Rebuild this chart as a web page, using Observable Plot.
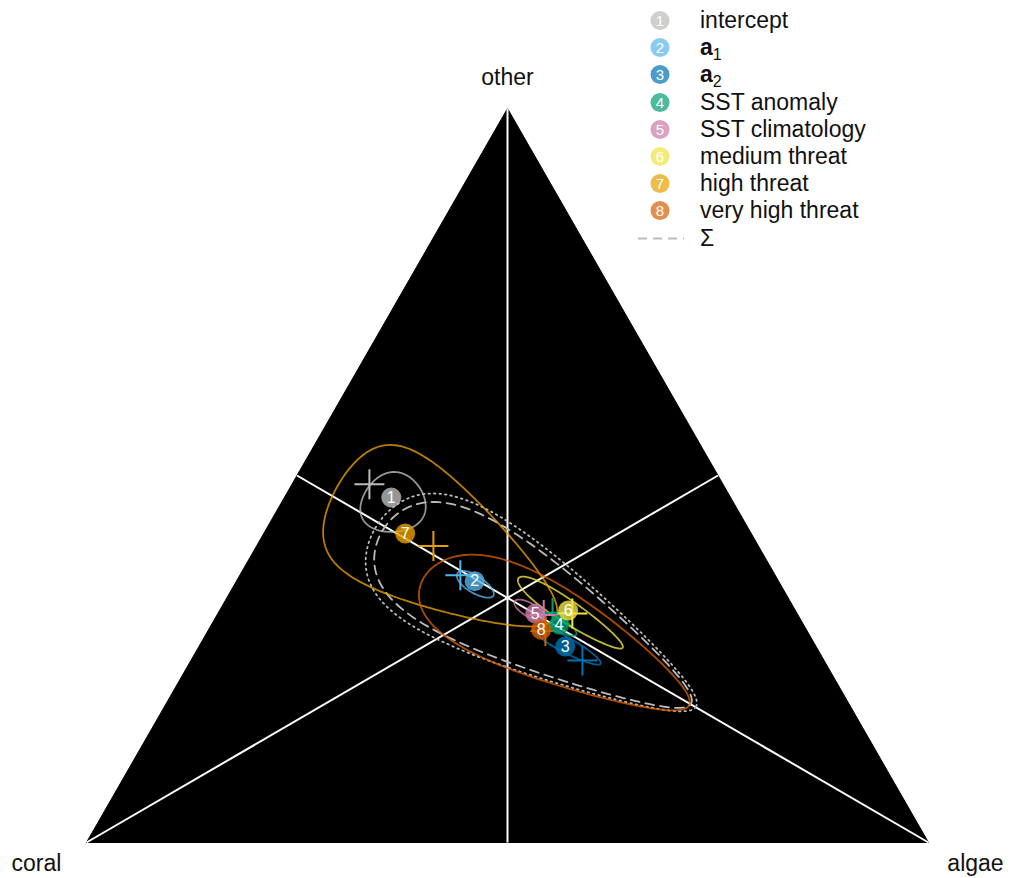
<!DOCTYPE html>
<html><head><meta charset="utf-8">
<script src="https://cdn.jsdelivr.net/npm/d3@7"></script>
<script src="https://cdn.jsdelivr.net/npm/@observablehq/plot@0.6"></script>
<style>
body{margin:0;background:#fff;font-family:"Liberation Sans",Arial,Helvetica,sans-serif;}
#wrap{position:relative;width:1011px;height:878px;}
#legend{position:absolute;left:636px;top:7px;}
.item{height:27.2px;display:flex;align-items:center;font-size:23px;color:#111;}
.item svg{width:50px;height:27px;flex:none;margin-right:14px;}
.item sub{font-size:16px;vertical-align:-5px;line-height:0;}
</style>
</head><body>
<div id="wrap"><div id="chart"></div><div id="legend"></div></div>
<script>
// ---- data ----
const series = ["intercept","a1","a2","SST anomaly","SST climatology","medium threat","high threat","very high threat"];
const legendHtml = ["intercept","<b>a</b><sub>1</sub>","<b>a</b><sub>2</sub>","SST anomaly","SST climatology","medium threat","high threat","very high threat"];
const colors = ["#BBBBBB","#56B4E9","#0072B2","#009E73","#CC79A7","#F0E442","#E69F00","#D55E00"];
// point estimates (composition: coral, algae, other)
const pointCoral = [0.403,0.361,0.298,0.290,0.311,0.270,0.411,0.315];
const pointAlgae = [0.127,0.283,0.435,0.413,0.377,0.414,0.168,0.395];
const pointOther = [0.470,0.356,0.267,0.297,0.312,0.316,0.421,0.290];
// reference crosses (composition)
const crossCoral = [0.420,0.374,0.287,0.290,0.302,0.267,0.386,0.311];
const crossAlgae = [0.092,0.262,0.465,0.397,0.388,0.421,0.210,0.401];
const crossOther = [0.488,0.364,0.248,0.313,0.310,0.312,0.404,0.288];
// ellipses in ilr coordinates: centre, semi-axes, angle (deg)
const ellZ1 = [-0.81,-0.17,0.275,0.25,0.11,0.305,-0.63,0.19];
const ellZ2 = [0.575,0.073,-0.236,-0.125,-0.06,-0.054,0.41,-0.18];
const ellA = [0.31,0.116,0.174,0.09,0.085,0.29,1.0,0.72];
const ellB = [0.12,0.04,0.045,0.035,0.035,0.065,0.28,0.27];
const ellAngle = [-26,-32,-30,-30,-30,-31,-30,-26];
// Sigma ellipses (dashed, dotted)
const sigmaZ1 = [0.02,0.0];
const sigmaZ2 = [-0.02,-0.01];
const sigmaA = [0.95,1.0];
const sigmaB = [0.30,0.33];
const sigmaAngle = [-29,-29];
const vertexNames = ["coral","algae","other"];

// ---- helpers ----
const S2 = Math.SQRT2, S6 = Math.sqrt(6);
function fromIlr(z1, z2){
  const ec = Math.exp(-z1/S2 - z2/S6), ea = Math.exp(z1/S2 - z2/S6), eo = Math.exp(2*z2/S6);
  const s = ec+ea+eo; return [ec/s, ea/s, eo/s];
}
const tx = (c,a,o) => a + o/2;
const ty = (c,a,o) => o;
function ellipse(id, z1, z2, A, B, ang){
  const th = ang*Math.PI/180, out = [];
  for (let k=0;k<=240;k++){
    const t = 2*Math.PI*k/240;
    const u = A*Math.cos(t), v = B*Math.sin(t);
    const [c,a,o] = fromIlr(z1 + u*Math.cos(th) - v*Math.sin(th), z2 + u*Math.sin(th) + v*Math.cos(th));
    out.push({id, x: tx(c,a,o), y: ty(c,a,o)});
  }
  return out;
}
const ellData = series.flatMap((s,i)=> ellipse(s, ellZ1[i], ellZ2[i], ellA[i], ellB[i], ellAngle[i]).map(d=>({...d, color: colors[i]})));
const sigDashed = ellipse("d", sigmaZ1[0], sigmaZ2[0], sigmaA[0], sigmaB[0], sigmaAngle[0]);
const sigDotted = ellipse("o", sigmaZ1[1], sigmaZ2[1], sigmaA[1], sigmaB[1], sigmaAngle[1]);
const points = series.map((s,i)=>({s, n: String(i+1), color: colors[i], x: tx(pointCoral[i],pointAlgae[i],pointOther[i]), y: ty(pointCoral[i],pointAlgae[i],pointOther[i])}));
const crosses = series.map((s,i)=>({s, color: colors[i], x: tx(crossCoral[i],crossAlgae[i],crossOther[i]), y: ty(crossCoral[i],crossAlgae[i],crossOther[i])}));
const verts = [[1,0,0],[0,1,0],[0,0,1]].map((p,i)=>({name: vertexNames[i], x: tx(...p), y: ty(...p)}));
const tri = [...verts, verts[0]];
const medians = verts.map((v,i)=>{const o = verts.filter((_,j)=>j!==i); return {x1:v.x,y1:v.y,x2:(o[0].x+o[1].x)/2,y2:(o[0].y+o[1].y)/2};});
const crossSymbol = {draw(ctx, size){const r = Math.sqrt(size/Math.PI); ctx.moveTo(-r,0); ctx.lineTo(r,0); ctx.moveTo(0,-r); ctx.lineTo(0,r);}};
const labelOpts = {x:"x", y:"y", text:"name", fontSize:23, fill:"#111"};

const chart = Plot.plot({
  width: 1011, height: 878,
  marginLeft: 86, marginRight: 83, marginTop: 108, marginBottom: 36,
  x: {domain:[0,1], axis:null},
  y: {domain:[0,1], axis:null},
  style: {fontFamily: '"Liberation Sans", Arial, Helvetica, sans-serif', background: "#fff"},
  marks: [
    Plot.line(tri, {x:"x", y:"y", fill:"black", stroke:"black", strokeWidth:1}),
    Plot.link(medians, {x1:"x1", y1:"y1", x2:"x2", y2:"y2", stroke:"white", strokeWidth:2}),
    Plot.line(sigDotted, {x:"x", y:"y", stroke:"#BBBBBB", strokeWidth:1.8, strokeDasharray:"1.5,4", strokeLinecap:"round"}),
    Plot.line(sigDashed, {x:"x", y:"y", stroke:"#BBBBBB", strokeWidth:1.8, strokeDasharray:"9,6"}),
    Plot.line(ellData, {x:"x", y:"y", z:"id", stroke:"color", strokeWidth:1.8, strokeOpacity:0.8}),
    Plot.dot(crosses, {x:"x", y:"y", symbol: crossSymbol, r:15, stroke:"color", fill:"none", strokeWidth:2}),
    Plot.dot(points, {x:"x", y:"y", r:10, fill:"color", fillOpacity:0.8, stroke:null}),
    Plot.text(points, {x:"x", y:"y", text:"n", fill:"white", fontSize:16}),
    Plot.text(verts.filter(d=>d.name==="coral"), {...labelOpts, dx:-50, dy:21}),
    Plot.text(verts.filter(d=>d.name==="algae"), {...labelOpts, dx:47, dy:21}),
    Plot.text(verts.filter(d=>d.name==="other"), {...labelOpts, dy:-31})
  ]
});
document.getElementById("chart").append(chart);

// legend
const leg = document.getElementById("legend");
series.forEach((s,i)=>{
  const c = d3.color(colors[i]); c.opacity = 0.7;
  const div = document.createElement("div"); div.className="item";
  div.innerHTML = `<svg viewBox="0 0 50 27"><circle cx="24" cy="13.5" r="9.5" fill="${c}"/><text x="24" y="19" text-anchor="middle" fill="white" font-size="15" font-family="Liberation Sans, Arial">${i+1}</text></svg><span>${legendHtml[i]}</span>`;
  leg.append(div);
});
const sd = document.createElement("div"); sd.className="item";
sd.innerHTML = `<svg viewBox="0 0 50 27"><line x1="2" x2="48" y1="13.5" y2="13.5" stroke="#BBBBBB" stroke-width="1.8" stroke-dasharray="9,6"/></svg><span>Σ</span>`;
leg.append(sd);
</script>
</body></html>
